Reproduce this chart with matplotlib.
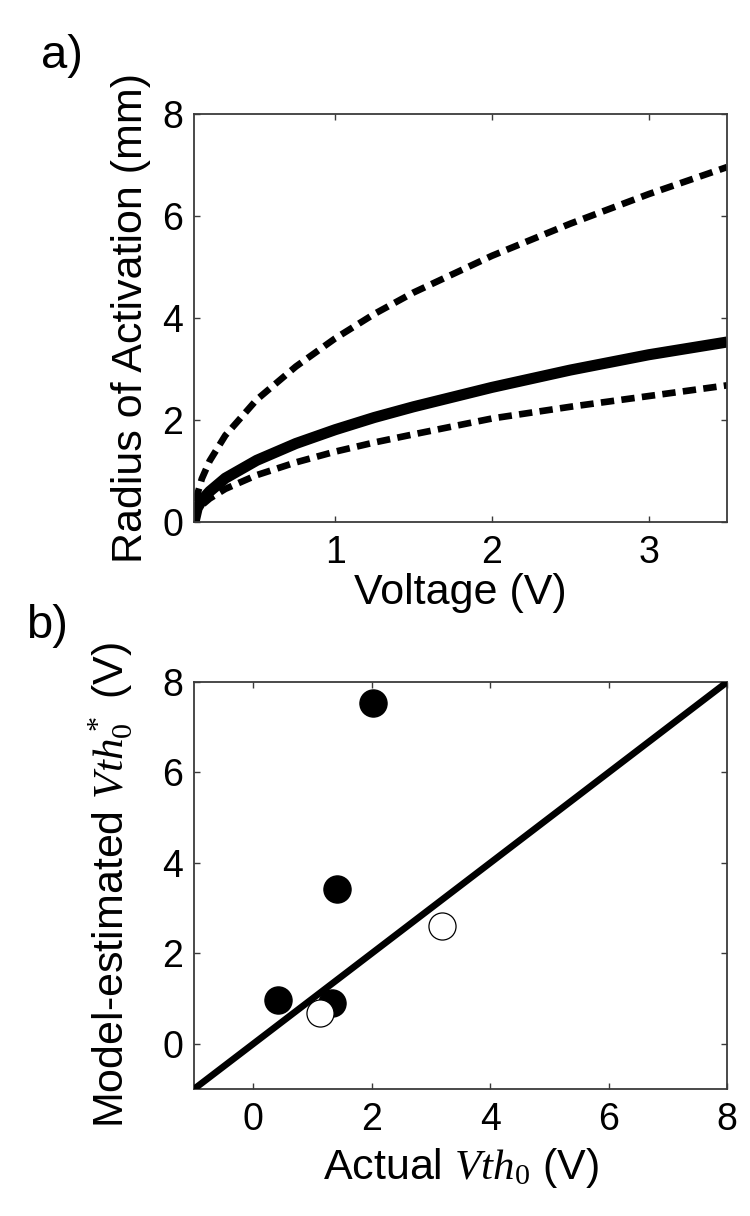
import matplotlib
matplotlib.use('Agg')
import numpy as np
import matplotlib.pyplot as plt

plt.rcParams['font.family'] = ['Liberation Sans', 'DejaVu Sans']
plt.rcParams['mathtext.fontset'] = 'custom'
plt.rcParams['mathtext.rm'] = 'Liberation Serif'
plt.rcParams['mathtext.it'] = 'Liberation Serif:italic'

# a) radius of activation vs voltage
voltage = [0.1, 0.12, 0.15, 0.2, 0.3, 0.5, 0.75, 1.0, 1.25, 1.5, 2.0, 2.5, 3.0, 3.5]
radius_mid = [0.0, 0.27, 0.43, 0.6, 0.86, 1.21, 1.54, 1.81, 2.05, 2.26, 2.64, 2.98, 3.28, 3.53]
radius_upper = [0.0, 0.53, 0.85, 1.2, 1.7, 2.4, 3.05, 3.6, 4.08, 4.5, 5.22, 5.85, 6.43, 6.96]
radius_lower = [0.0, 0.2, 0.33, 0.46, 0.65, 0.92, 1.17, 1.38, 1.56, 1.72, 2.03, 2.26, 2.47, 2.68]

# b) model-estimated vs actual threshold
actual_filled = [0.42, 1.33, 1.42, 2.03]
model_filled = [0.96, 0.9, 3.42, 7.53]
actual_open = [1.13, 3.18]
model_open = [0.68, 2.61]
identity = [-1, 8]

TICK_FS = 27
LABEL_FS = 31
SPINE_C = '#3a3a3a'

fig = plt.figure(figsize=(7.5, 12.16), dpi=100)
ax1 = fig.add_axes([0.2587, 0.5707, 0.7107, 0.3355])
ax2 = fig.add_axes([0.2587, 0.1044, 0.7107, 0.3347])

for ax in (ax1, ax2):
    for s in ax.spines.values():
        s.set_color(SPINE_C)
        s.set_linewidth(1.3)
    ax.tick_params(direction='in', top=True, right=True, length=4, width=1,
                   color=SPINE_C, labelsize=TICK_FS)
    ax.tick_params(axis='y', pad=8)
    ax.tick_params(axis='x', pad=9)

# panel a
ax1.plot(voltage, radius_upper, color='black', lw=4.8, ls=(0, (2.0, 1.1)),
         dash_capstyle='butt')
ax1.plot(voltage, radius_lower, color='black', lw=4.8, ls=(0, (2.0, 1.1)),
         dash_capstyle='butt')
ax1.plot(voltage, radius_mid, color='black', lw=8, solid_capstyle='butt')
ax1.set_xlim(0.1, 3.5)
ax1.set_ylim(0, 8)
ax1.set_xticks([1, 2, 3])
ax1.set_yticks([0, 2, 4, 6, 8])
ax1.set_xlabel('Voltage (V)', fontsize=LABEL_FS, va='top')
ax1.set_ylabel('Radius of Activation (mm)', fontsize=LABEL_FS)
ax1.xaxis.set_label_coords(0.5, -0.124)
ax1.yaxis.set_label_coords(-0.081, 0.5)

# panel b
ax2.scatter(actual_filled, model_filled, s=19.5**2, color='black', zorder=2)
ax2.plot(identity, identity, color='black', lw=4.8, zorder=3,
         solid_capstyle='butt')
ax2.scatter(actual_open, model_open, s=19.5**2, facecolor='white',
            edgecolor='black', linewidth=0.9, zorder=4)
ax2.set_xlim(-1, 8)
ax2.set_ylim(-1, 8)
ax2.set_xticks([0, 2, 4, 6, 8])
ax2.set_yticks([0, 2, 4, 6, 8])
ax2.set_xlabel(r'Actual $\mathit{Vth}_0$ (V)', fontsize=LABEL_FS, va='top')
ax2.set_ylabel(r'Model-estimated $\mathit{Vth}^*_0$ (V)', fontsize=LABEL_FS)
ax2.xaxis.set_label_coords(0.5, -0.14)
ax2.yaxis.set_label_coords(-0.11, 0.5)

fig.text(0.083, 0.954, 'a)', fontsize=34, ha='center', va='center')
fig.text(0.063, 0.485, 'b)', fontsize=34, ha='center', va='center')

fig.savefig('out.png', dpi=100)
